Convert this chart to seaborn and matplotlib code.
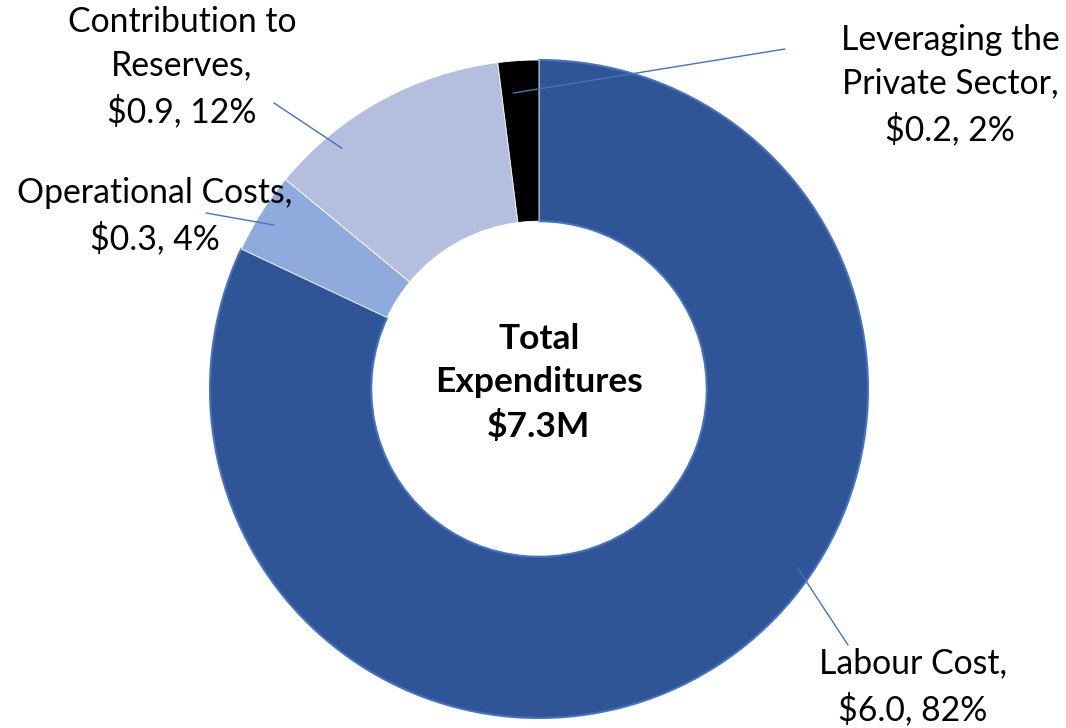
import matplotlib
matplotlib.use("Agg")
import matplotlib.pyplot as plt
import seaborn as sns
import numpy as np

# datos del grafico
categories = ["Labour Cost", "Operational Costs", "Contribution to\nReserves", "Leveraging the\nPrivate Sector"]
amounts = [6.0, 0.3, 0.9, 0.2]   # millones
percents = [82, 4, 12, 2]
total_label = "Total\nExpenditures\n$7.3M"

colors = ["#2F5597", "#8FAADC", "#B4BEDE", "#000000"]

sns.set_theme(style="white")
plt.rcParams["font.family"] = ["Lato", "DejaVu Sans"]

W, H = 1066, 728
cx, cy, R = 539, 389, 329   # centro y radio en pixeles

fig = plt.figure(figsize=(W / 100, H / 100), dpi=100)
ax = fig.add_axes([0, 0, 1, 1])

wedges, _ = ax.pie(percents, colors=colors, startangle=90, counterclock=False,
                   radius=1.0, wedgeprops=dict(width=0.49, linewidth=0.6, edgecolor="white"))
wedges[0].set_edgecolor("#4472C4")
wedges[0].set_linewidth(1.5)

ax.set_xlim(-cx / R, (W - cx) / R)
ax.set_ylim((cy - H) / R, cy / R)
ax.set_aspect("auto")
ax.axis("off")


def px(x, y):
    # pixel de la imagen -> coordenadas de datos
    return (x - cx) / R, (cy - y) / R


# posicion del texto (pixeles) y punto de inicio de la linea guia
label_pos = [(913, 687), (155, 216), (182, 67), (950, 85)]
line_start = [(848, 645), (206, 213), (274, 103), (785, 49)]
anchor_r = [0.955, 0.947, 0.946, 0.903]
anchor_ang = [-34.7, 148.25, 129.3, 95.0]

for i, cat in enumerate(categories):
    txt = f"{cat},\n${amounts[i]:.1f}, {percents[i]}%"
    tx, ty = px(*label_pos[i])
    ax.text(tx, ty, txt, ha="center", va="center", fontsize=24.3, linespacing=1.46, color="black")
    sx, sy = px(*line_start[i])
    a = np.deg2rad(anchor_ang[i])
    ax.plot([sx, anchor_r[i] * np.cos(a)], [sy, anchor_r[i] * np.sin(a)], color="#4472C4", lw=1.0)

ax.text(0, px(0, 383)[1], total_label, ha="center", va="center", fontsize=25.5,
        fontweight="bold", linespacing=1.42, color="black")

fig.savefig("out.png", dpi=100, facecolor="white")
